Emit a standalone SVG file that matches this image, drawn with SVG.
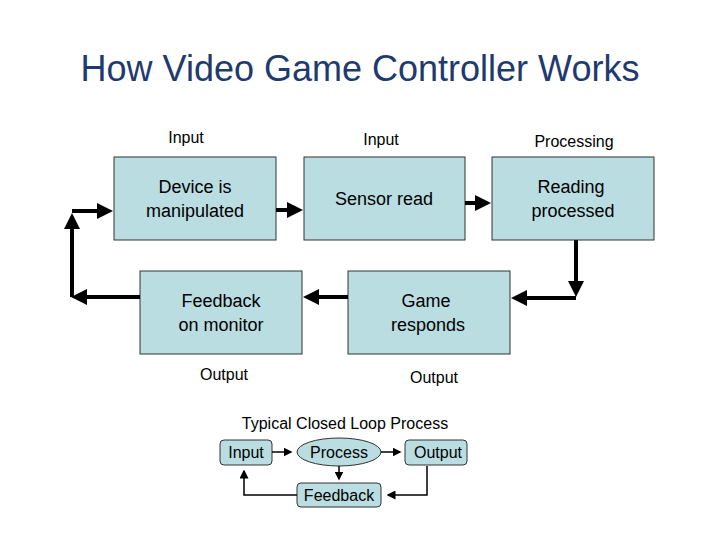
<svg xmlns="http://www.w3.org/2000/svg" width="720" height="540" viewBox="0 0 720 540">
<style>
text{font-family:"Liberation Sans",Arial,sans-serif;fill:#000}
.box{fill:#b9dde0;stroke:#333;stroke-width:1}
.t{font-size:18px;text-anchor:middle}
.l{font-size:16px;text-anchor:middle}
.s{font-size:16px;text-anchor:middle}
.c{fill:none;stroke:#000;stroke-width:4}
.c2{fill:none;stroke:#000;stroke-width:1.5}
</style>
<defs>
<marker id="a" markerWidth="4" markerHeight="4" refX="3" refY="2" orient="auto"><path d="M0,0L4,2L0,4z" fill="#000"/></marker>
<marker id="b" markerWidth="6" markerHeight="6" refX="5" refY="3" orient="auto"><path d="M0,0L6,3L0,6z" fill="#000"/></marker>
</defs>
<rect width="720" height="540" fill="#fff"/>
<text x="360" y="81" style="font-size:36px;text-anchor:middle;fill:#1f3a6e">How Video Game Controller Works</text>
<text class="l" x="186" y="143">Input</text>
<text class="l" x="381" y="145">Input</text>
<text class="l" x="574" y="147">Processing</text>
<text class="l" x="224" y="380">Output</text>
<text class="l" x="434" y="383">Output</text>
<g id="n1"><rect class="box" x="114" y="157" width="162" height="83"/><text class="t" x="195" y="193">Device is</text><text class="t" x="195" y="217">manipulated</text></g>
<g id="n2"><rect class="box" x="304" y="157" width="161" height="83"/><text class="t" x="384" y="205">Sensor read</text></g>
<g id="n3"><rect class="box" x="492" y="157" width="162" height="83"/><text class="t" x="571" y="193">Reading</text><text class="t" x="573" y="217">processed</text></g>
<g id="n4"><rect class="box" x="348" y="271" width="162" height="83"/><text class="t" x="426" y="307">Game</text><text class="t" x="428" y="331">responds</text></g>
<g id="n5"><rect class="box" x="140" y="271" width="162" height="83"/><text class="t" x="221" y="307">Feedback</text><text class="t" x="221" y="331">on monitor</text></g>
<text x="345" y="429" style="font-size:16px;text-anchor:middle">Typical Closed Loop Process</text>
<g id="s1"><rect class="box" x="220" y="440" width="52" height="25" rx="4"/><text class="s" x="246" y="458">Input</text></g>
<g id="s2"><ellipse class="box" cx="339" cy="452" rx="42" ry="14"/><text class="s" x="339" y="458">Process</text></g>
<g id="s3"><rect class="box" x="405" y="440" width="62" height="25" rx="4"/><text class="s" x="438" y="458">Output</text></g>
<g id="s4"><rect class="box" x="297" y="483" width="84" height="24" rx="4"/><text class="s" x="339" y="501">Feedback</text></g>
<g id="connectors">
<path class="c" d="M276,210H299" marker-end="url(#a)"/>
<path class="c" d="M465,203H487" marker-end="url(#a)"/>
<path class="c" d="M576,240V293" marker-end="url(#a)"/>
<path class="c" d="M576,298H515" marker-end="url(#a)"/>
<path class="c" d="M348,297H307" marker-end="url(#a)"/>
<path class="c" d="M140,297H75" marker-end="url(#a)"/>
<path class="c" d="M72,297V217" marker-end="url(#a)"/>
<path class="c" d="M72,211H109" marker-end="url(#a)"/>
<path class="c2" d="M272,452H291" marker-end="url(#b)"/>
<path class="c2" d="M381,452H400" marker-end="url(#b)"/>
<path class="c2" d="M339,466V479" marker-end="url(#b)"/>
<path class="c2" d="M297,495H244V471" marker-end="url(#b)"/>
<path class="c2" d="M427,466V495H388" marker-end="url(#b)"/>
</g>
</svg>
